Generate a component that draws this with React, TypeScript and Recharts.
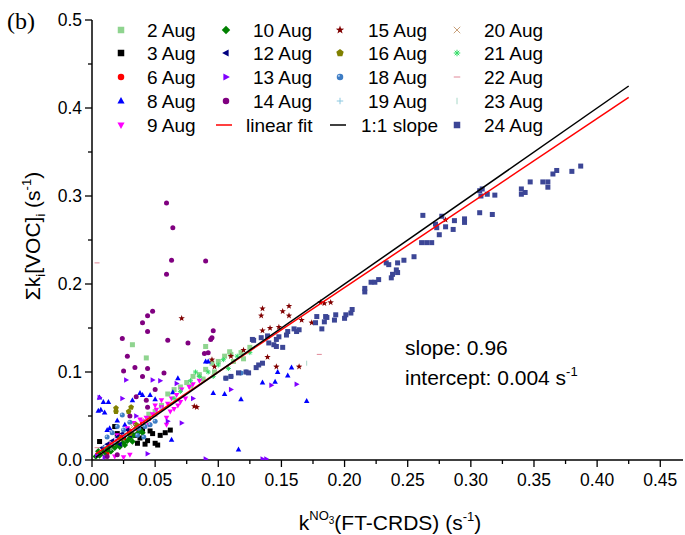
import React from "react";
import { ScatterChart, Scatter, XAxis, YAxis, Legend } from "recharts";

// tick values
const xTicks = [0, 0.025, 0.05, 0.075, 0.1, 0.125, 0.15, 0.175, 0.2, 0.225, 0.25, 0.275, 0.3, 0.325, 0.35, 0.375, 0.4, 0.425, 0.45];
const yTicks = [0, 0.05, 0.1, 0.15, 0.2, 0.25, 0.3, 0.35, 0.4, 0.45, 0.5];

// fit results
const fitSlope = 0.96;
const fitIntercept = 0.004;
const lineX = [0.003, 0.425];

// [k_NO3, sum k[VOC]] per day
const aug2 = [[0.032,0.131],[0.043,0.116],[0.060,0.075],[0.065,0.080],[0.070,0.083],[0.075,0.088],[0.080,0.095],[0.085,0.097],[0.090,0.103],[0.095,0.110],[0.100,0.112],[0.105,0.118],[0.110,0.120],[0.112,0.112],[0.097,0.100],[0.088,0.092],[0.078,0.084],[0.118,0.122],[0.090,0.129],[0.109,0.123],[0.125,0.128],[0.055,0.062],[0.050,0.055],[0.045,0.052],[0.120,0.115]];
const aug3 = [[0.058,0.031],[0.054,0.028],[0.046,0.033],[0.048,0.030],[0.044,0.022],[0.036,0.019],[0.050,0.019],[0.052,0.017],[0.038,0.025],[0.006,0.021],[0.018,0.038],[0.040,0.035],[0.030,0.030],[0.025,0.025],[0.015,0.018],[0.010,0.012],[0.062,0.034],[0.042,0.018],[0.034,0.028],[0.020,0.030]];
const aug6 = [[0.010,0.010],[0.015,0.016],[0.020,0.020],[0.025,0.024],[0.030,0.033],[0.035,0.036],[0.040,0.042],[0.012,0.008],[0.022,0.026],[0.045,0.047]];
const aug8 = [[0.007,0.057],[0.006,0.071],[0.009,0.066],[0.013,0.066],[0.010,0.054],[0.005,0.056],[0.038,0.076],[0.040,0.074],[0.046,0.074],[0.032,0.068],[0.050,0.069],[0.064,0.077],[0.068,0.093],[0.090,0.112],[0.092,0.112],[0.096,0.076],[0.063,0.023],[0.014,0.036],[0.012,0.034],[0.147,0.100],[0.155,0.096],[0.145,0.089],[0.135,0.088],[0.105,0.075],[0.118,0.069],[0.170,0.067],[0.116,0.012],[0.158,0.105],[0.020,0.045],[0.026,0.040]];
const aug9 = [[0.005,0.006],[0.010,0.012],[0.015,0.018],[0.020,0.022],[0.025,0.028],[0.030,0.032],[0.035,0.038],[0.040,0.044],[0.043,0.048],[0.048,0.052],[0.051,0.057],[0.055,0.060],[0.055,0.068],[0.060,0.064],[0.063,0.070],[0.067,0.074],[0.071,0.080],[0.077,0.083],[0.080,0.086],[0.059,0.048],[0.059,0.040],[0.065,0.058],[0.070,0.066],[0.045,0.040],[0.038,0.046],[0.050,0.062],[0.033,0.042],[0.028,0.036],[0.062,0.055],[0.074,0.070],[0.018,0.004],[0.025,0.003],[0.030,0.006],[0.085,0.090],[0.020,0.028],[0.068,0.062]];
const aug10 = [[0.003,0.004],[0.006,0.005],[0.008,0.009],[0.010,0.006],[0.012,0.012],[0.015,0.010],[0.018,0.014],[0.020,0.018],[0.022,0.015],[0.025,0.020],[0.028,0.022],[0.030,0.025],[0.033,0.028],[0.036,0.030],[0.038,0.034],[0.014,0.015],[0.005,0.010],[0.026,0.017],[0.040,0.031],[0.032,0.021]];
const aug12 = [[0.008,0.014],[0.012,0.018],[0.016,0.022],[0.020,0.026],[0.024,0.030],[0.028,0.034],[0.022,0.018],[0.030,0.028]];
const aug13 = [[0.006,0.071],[0.024,0.070],[0.027,0.091],[0.048,0.091],[0.054,0.090],[0.067,0.087],[0.110,0.080],[0.142,0.085],[0.162,0.086],[0.060,0.044],[0.071,0.042],[0.044,0.007],[0.138,0.001],[0.090,0.001],[0.135,0.001],[0.004,0.005],[0.010,0.003],[0.080,0.070],[0.035,0.050]];
const aug14 = [[0.059,0.292],[0.064,0.264],[0.063,0.227],[0.090,0.226],[0.059,0.211],[0.048,0.169],[0.044,0.164],[0.040,0.156],[0.044,0.146],[0.024,0.138],[0.060,0.136],[0.076,0.133],[0.096,0.147],[0.094,0.137],[0.095,0.139],[0.028,0.118],[0.089,0.121],[0.092,0.122],[0.025,0.101],[0.034,0.105],[0.040,0.095],[0.044,0.104],[0.057,0.099],[0.035,0.072],[0.043,0.068],[0.044,0.060],[0.012,0.004],[0.020,0.006],[0.030,0.050],[0.050,0.080]];
const aug15 = [[0.135,0.172],[0.134,0.164],[0.151,0.169],[0.156,0.175],[0.156,0.164],[0.135,0.147],[0.141,0.150],[0.148,0.151],[0.166,0.159],[0.174,0.156],[0.181,0.179],[0.184,0.178],[0.189,0.179],[0.139,0.117],[0.146,0.106],[0.164,0.106],[0.071,0.161],[0.095,0.114],[0.083,0.060],[0.081,0.061],[0.280,0.273],[0.097,0.106],[0.110,0.118],[0.120,0.125]];
const aug16 = [[0.019,0.059],[0.019,0.055],[0.029,0.055],[0.031,0.060],[0.030,0.030],[0.022,0.024],[0.035,0.040]];
const aug18 = [[0.024,0.051],[0.030,0.043],[0.037,0.036],[0.036,0.028],[0.042,0.038],[0.025,0.034],[0.020,0.038],[0.016,0.031],[0.012,0.026],[0.041,0.026],[0.118,0.099],[0.122,0.100],[0.110,0.095],[0.106,0.093],[0.046,0.040],[0.050,0.044]];
const aug19 = [[0.010,0.015],[0.018,0.020],[0.026,0.029],[0.034,0.035],[0.045,0.046],[0.055,0.058]];
const aug20 = [[0.008,0.008],[0.016,0.019],[0.024,0.024],[0.032,0.038],[0.042,0.045]];
const aug21 = [[0.070,0.078],[0.078,0.090],[0.085,0.095],[0.092,0.100],[0.100,0.108],[0.104,0.114],[0.115,0.118],[0.082,0.100],[0.096,0.095],[0.108,0.104],[0.065,0.070],[0.125,0.122]];
const aug22 = [[0.004,0.224],[0.020,0.022],[0.050,0.050],[0.180,0.120],[0.004,0.014]];
const aug23 = [[0.015,0.013],[0.040,0.041],[0.170,0.110],[0.062,0.064]];
const aug24 = [[0.106,0.093],[0.110,0.095],[0.116,0.099],[0.122,0.100],[0.124,0.099],[0.130,0.105],[0.132,0.108],[0.135,0.110],
  [0.127,0.137],[0.128,0.136],[0.134,0.139],[0.139,0.141],[0.140,0.133],[0.144,0.131],[0.146,0.137],[0.146,0.129],[0.148,0.140],[0.151,0.128],[0.154,0.142],[0.155,0.146],[0.160,0.149],[0.162,0.146],[0.164,0.148],
  [0.177,0.156],[0.178,0.163],[0.182,0.149],[0.184,0.157],[0.185,0.163],[0.186,0.162],[0.192,0.159],[0.193,0.165],[0.200,0.161],[0.201,0.165],[0.205,0.167],[0.206,0.171],
  [0.216,0.191],[0.216,0.195],[0.221,0.202],[0.224,0.202],[0.227,0.205],[0.233,0.224],[0.235,0.222],[0.237,0.207],[0.238,0.211],[0.241,0.216],[0.242,0.213],[0.242,0.224],[0.247,0.227],[0.255,0.231],
  [0.261,0.247],[0.262,0.278],[0.265,0.247],[0.269,0.247],[0.272,0.268],[0.273,0.264],[0.275,0.256],[0.277,0.277],[0.280,0.265],[0.286,0.262],[0.287,0.272],[0.295,0.274],[0.295,0.270],
  [0.307,0.281],[0.307,0.306],[0.308,0.300],[0.309,0.308],[0.313,0.302],[0.317,0.279],[0.319,0.301],
  [0.340,0.308],[0.340,0.302],[0.343,0.304],[0.347,0.316],[0.357,0.316],[0.361,0.316],[0.361,0.310],[0.365,0.325],[0.368,0.329],[0.380,0.328],[0.387,0.334]];

const series = [
  { name: "2 Aug", data: aug2, kind: "square", color: "#8fd48f" },
  { name: "3 Aug", data: aug3, kind: "square", color: "#000000" },
  { name: "6 Aug", data: aug6, kind: "circle", color: "#ff0000" },
  { name: "8 Aug", data: aug8, kind: "triUp", color: "#0000ff" },
  { name: "9 Aug", data: aug9, kind: "triDown", color: "#ff00ff" },
  { name: "10 Aug", data: aug10, kind: "diamond", color: "#008000" },
  { name: "12 Aug", data: aug12, kind: "triLeft", color: "#000080" },
  { name: "13 Aug", data: aug13, kind: "triRight", color: "#8000ff" },
  { name: "14 Aug", data: aug14, kind: "circle", color: "#800080" },
  { name: "15 Aug", data: aug15, kind: "star", color: "#800000" },
  { name: "16 Aug", data: aug16, kind: "pentagon", color: "#808000" },
  { name: "18 Aug", data: aug18, kind: "sphere", color: "#3d7cc4" },
  { name: "19 Aug", data: aug19, kind: "plus", color: "#8cc8e0" },
  { name: "20 Aug", data: aug20, kind: "x", color: "#c8a07a" },
  { name: "21 Aug", data: aug21, kind: "asterisk", color: "#33dd66" },
  { name: "22 Aug", data: aug22, kind: "dash", color: "#e08898" },
  { name: "23 Aug", data: aug23, kind: "vbar", color: "#a8d8c8" },
  { name: "24 Aug", data: aug24, kind: "square", color: "#3c4696" },
];

const fitData = lineX.map((x) => ({ x, y: fitSlope * x + fitIntercept }));
const oneToOne = lineX.map((x) => ({ x, y: x }));

const FONT = "'Liberation Sans', Arial, sans-serif";

function mark(kind: string, cx: number, cy: number, c: string, s: number) {
  const h = s / 2;
  const poly = (pts: number[][]) => (
    <polygon points={pts.map((p) => `${cx + p[0]},${cy + p[1]}`).join(" ")} fill={c} />
  );
  switch (kind) {
    case "square":
      return <rect x={cx - h} y={cy - h} width={s} height={s} fill={c} />;
    case "circle":
      return <circle cx={cx} cy={cy} r={h} fill={c} />;
    case "sphere":
      return (
        <g>
          <circle cx={cx} cy={cy} r={h} fill={c} />
          <circle cx={cx - h * 0.35} cy={cy - h * 0.35} r={h * 0.35} fill="#a8c8ee" />
        </g>
      );
    case "triUp":
      return poly([[0, -h * 1.2], [-h * 1.1, h * 0.8], [h * 1.1, h * 0.8]]);
    case "triDown":
      return poly([[0, h * 1.2], [-h * 1.1, -h * 0.8], [h * 1.1, -h * 0.8]]);
    case "triLeft":
      return poly([[-h * 1.2, 0], [h * 0.8, -h * 1.1], [h * 0.8, h * 1.1]]);
    case "triRight":
      return poly([[h * 1.2, 0], [-h * 0.8, -h * 1.1], [-h * 0.8, h * 1.1]]);
    case "diamond":
      return poly([[0, -h * 1.3], [h * 1.3, 0], [0, h * 1.3], [-h * 1.3, 0]]);
    case "star": {
      const pts: number[][] = [];
      for (let i = 0; i < 10; i++) {
        const r = i % 2 === 0 ? h * 1.35 : h * 0.55;
        const a = -Math.PI / 2 + (i * Math.PI) / 5;
        pts.push([r * Math.cos(a), r * Math.sin(a)]);
      }
      return poly(pts);
    }
    case "pentagon": {
      const pts: number[][] = [];
      for (let i = 0; i < 5; i++) {
        const a = -Math.PI / 2 + (i * 2 * Math.PI) / 5;
        pts.push([h * 1.2 * Math.cos(a), h * 1.2 * Math.sin(a)]);
      }
      return poly(pts);
    }
    case "plus":
      return (
        <g stroke={c} strokeWidth={1}>
          <line x1={cx - h} x2={cx + h} y1={cy} y2={cy} />
          <line x1={cx} x2={cx} y1={cy - h} y2={cy + h} />
        </g>
      );
    case "x":
      return (
        <g stroke={c} strokeWidth={1}>
          <line x1={cx - h} x2={cx + h} y1={cy - h} y2={cy + h} />
          <line x1={cx - h} x2={cx + h} y1={cy + h} y2={cy - h} />
        </g>
      );
    case "asterisk":
      return (
        <g stroke={c} strokeWidth={1}>
          <line x1={cx - h} x2={cx + h} y1={cy} y2={cy} />
          <line x1={cx} x2={cx} y1={cy - h} y2={cy + h} />
          <line x1={cx - h * 0.7} x2={cx + h * 0.7} y1={cy - h * 0.7} y2={cy + h * 0.7} />
          <line x1={cx - h * 0.7} x2={cx + h * 0.7} y1={cy + h * 0.7} y2={cy - h * 0.7} />
        </g>
      );
    case "dash":
      return <line x1={cx - h} x2={cx + h} y1={cy} y2={cy} stroke={c} strokeWidth={1} />;
    case "vbar":
      return <line x1={cx} x2={cx} y1={cy - h} y2={cy + h} stroke={c} strokeWidth={1} />;
    default:
      return <circle cx={cx} cy={cy} r={h} fill={c} />;
  }
}

const onStep = (v: number, step: number) => Math.abs(v / step - Math.round(v / step)) < 1e-6;

const XTick = (props: any) => {
  const { x, y, payload } = props;
  const v = payload.value as number;
  const major = onStep(v, 0.05);
  return (
    <g>
      <line x1={x} x2={x} y1={y} y2={y + (major ? 7 : 4)} stroke="#000" strokeWidth={1.3} />
      {major && (
        <text x={x} y={y + 26} textAnchor="middle" fontSize={17.5} fontFamily={FONT} fill="#000">
          {v.toFixed(2)}
        </text>
      )}
    </g>
  );
};

const YTick = (props: any) => {
  const { x, y, payload } = props;
  const v = payload.value as number;
  const major = onStep(v, 0.1);
  return (
    <g>
      <line x1={x - (major ? 7 : 4)} x2={x} y1={y} y2={y} stroke="#000" strokeWidth={1.3} />
      {major && (
        <text x={x - 10} y={y + 6} textAnchor="end" fontSize={17.5} fontFamily={FONT} fill="#000">
          {v.toFixed(1)}
        </text>
      )}
    </g>
  );
};

// legend grid: 4 columns x 5 rows, filled column-wise
const legendItems = [
  ...series.slice(0, 9).map((s) => ({ ...s, line: false })),
  { name: "linear fit", data: [], kind: "line", color: "#ff0000", line: true },
  ...series.slice(9, 13).map((s) => ({ ...s, line: false })),
  { name: "1:1 slope", data: [], kind: "line", color: "#000000", line: true },
  ...series.slice(13).map((s) => ({ ...s, line: false })),
];
const colMarkerX = [121, 226, 340, 457];
const colTextX = [147, 253, 368, 484];
const rowY = [30, 53, 77, 101, 125];

const Overlay = () => (
  <svg width={685} height={535} style={{ display: "block" }} fontFamily={FONT}>
    {legendItems.map((it, i) => {
      const col = Math.floor(i / 5);
      const row = i % 5;
      const mx = colMarkerX[col];
      const cy = rowY[row];
      return (
        <g key={it.name}>
          {it.line ? (
            <line x1={mx - 10} x2={mx + 6} y1={cy} y2={cy} stroke={it.color} strokeWidth={1.5} />
          ) : (
            mark(it.kind, mx, cy, it.color, 6.5)
          )}
          <text x={colTextX[col] - (it.line ? 7 : 0)} y={cy + 7} fontSize={19} fill="#000">
            {it.name}
          </text>
        </g>
      );
    })}
    <text x={7} y={29} fontSize={24} fontFamily="'Liberation Serif', 'Times New Roman', serif" fill="#000">
      (b)
    </text>
    <text x={405} y={355} fontSize={21} fill="#000">slope: 0.96</text>
    <text x={405} y={385} fontSize={21} fill="#000">
      intercept: 0.004 s<tspan dy={-9} fontSize={13}>-1</tspan>
    </text>
    <text x={390} y={530} textAnchor="middle" fontSize={21} fill="#000">
      k<tspan dy={-10} fontSize={13}>NO</tspan>
      <tspan dy={4} fontSize={10}>3</tspan>
      <tspan dy={6}>(FT-CRDS) (s</tspan>
      <tspan dy={-9} fontSize={13}>-1</tspan>
      <tspan dy={9}>)</tspan>
    </text>
    <text transform="translate(40,236) rotate(-90)" textAnchor="middle" fontSize={21} fill="#000">
      Σk<tspan dy={5} fontSize={13}>i</tspan>
      <tspan dy={-5}>[VOC]</tspan>
      <tspan dy={5} fontSize={13}>i</tspan>
      <tspan dy={-5}> (s</tspan>
      <tspan dy={-9} fontSize={13}>-1</tspan>
      <tspan dy={9}>)</tspan>
    </text>
  </svg>
);

export default function App() {
  return (
    <div style={{ position: "absolute", left: 0, top: 0, width: 685, height: 535, background: "#fff" }}>
      <ScatterChart width={685} height={535} margin={{ top: 20, right: 2, bottom: 0, left: 0 }}>
        <XAxis
          type="number"
          dataKey="x"
          domain={[0, 0.468]}
          ticks={xTicks}
          interval={0}
          height={75}
          tickSize={0}
          tickMargin={0}
          tickLine={false}
          tick={<XTick />}
          axisLine={{ stroke: "#000", strokeWidth: 1.5 }}
          allowDataOverflow
        />
        <YAxis
          type="number"
          dataKey="y"
          domain={[0, 0.5]}
          ticks={yTicks}
          interval={0}
          width={92}
          tickSize={0}
          tickMargin={0}
          tickLine={false}
          tick={<YTick />}
          axisLine={{ stroke: "#000", strokeWidth: 1.5 }}
          allowDataOverflow
        />
        {series.map((s) => (
          <Scatter
            key={s.name}
            name={s.name}
            data={s.data.map(([x, y]) => ({ x, y }))}
            isAnimationActive={false}
            shape={(p: any) => mark(s.kind, p.cx, p.cy, s.color, 5)}
          />
        ))}
        <Scatter
          name="linear fit"
          data={fitData}
          line={{ stroke: "#ff0000", strokeWidth: 1.5 }}
          lineType="joint"
          shape={() => <g />}
          isAnimationActive={false}
        />
        <Scatter
          name="1:1 slope"
          data={oneToOne}
          line={{ stroke: "#000000", strokeWidth: 1.5 }}
          lineType="joint"
          shape={() => <g />}
          isAnimationActive={false}
        />
        <Legend
          layout="horizontal"
          verticalAlign="middle"
          align="center"
          content={() => <Overlay />}
          wrapperStyle={{ left: 0, top: 0, width: 685, height: 535, pointerEvents: "none" }}
        />
      </ScatterChart>
    </div>
  );
}
